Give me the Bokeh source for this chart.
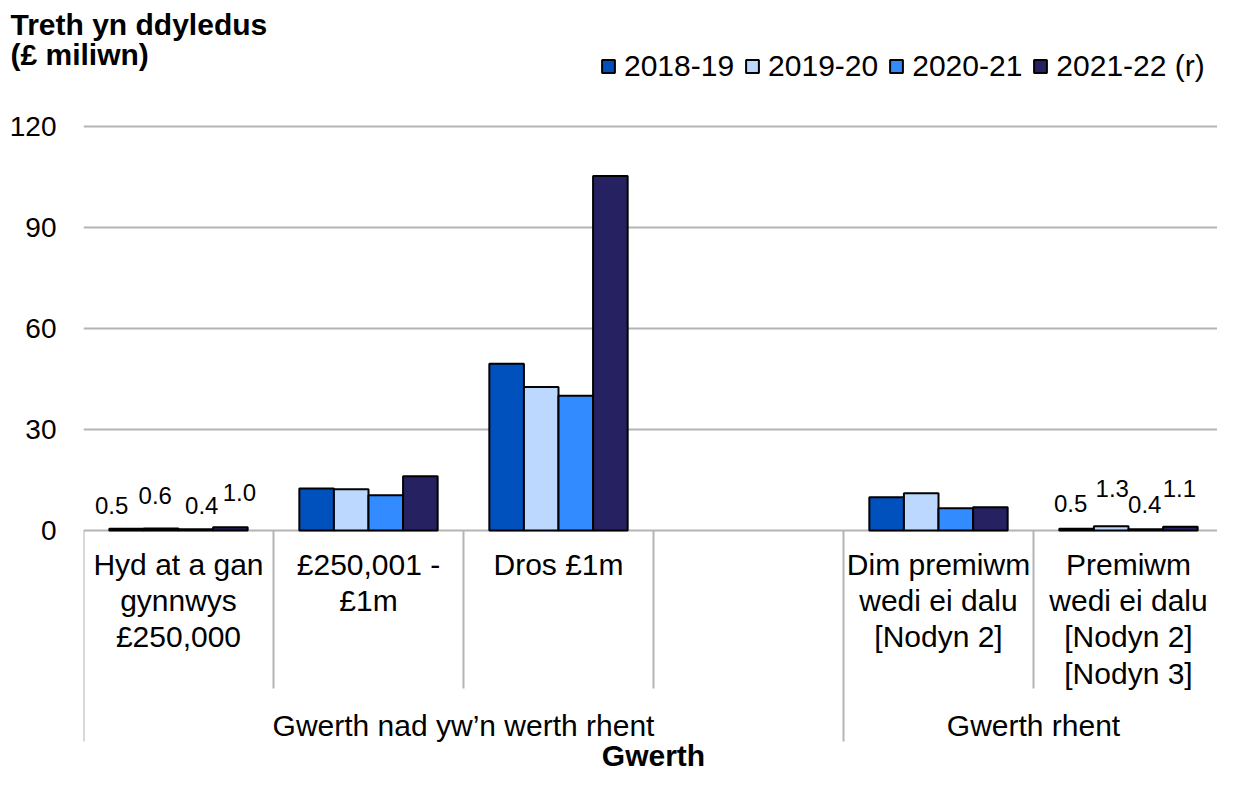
import math
from bokeh.plotting import figure
from bokeh.models import Range1d, FixedTicker, Legend, LegendItem, Title, ColumnDataSource
from bokeh.core.properties import value
from bokeh.transform import dodge
from bokeh.embed import file_html
from bokeh.resources import INLINE

nan = float("nan")

# ---------------- data ----------------
categories = [
    "Hyd at a gan\ngynnwys\n£250,000",
    "£250,001 -\n£1m",
    "Dros £1m",
    "",
    "Dim premiwm\nwedi ei dalu\n[Nodyn 2]",
    "Premiwm\nwedi ei dalu\n[Nodyn 2]\n[Nodyn 3]",
]
groups = ["Gwerth nad yw’n werth rhent", "Gwerth rhent"]
group_sizes = [4, 2]
series_names = ["2018-19", "2019-20", "2020-21", "2021-22 (r)"]
v_2018_19 = [0.5, 12.5, 49.6, nan, 9.9, 0.5]
v_2019_20 = [0.6, 12.3, 42.7, nan, 11.1, 1.3]
v_2020_21 = [0.4, 10.5, 40.1, nan, 6.6, 0.4]
v_2021_22 = [1.0, 16.1, 105.4, nan, 6.9, 1.1]
labelled_categories = [0, 5]
y_ticks = [0, 30, 60, 90, 120]
y_title = "Treth yn ddyledus\n(£ miliwn)"
x_title = "Gwerth"

# ---------------- style ----------------
series_values = [v_2018_19, v_2019_20, v_2020_21, v_2021_22]
colors = ["#0050BE", "#BDD8FE", "#338CFF", "#262262"]
FONT = "Liberation Sans"
W, H = 1217, 773
LEFT = 83             # frame left (canvas px)
TOP = 46              # frame top (canvas px)
AXIS_Y = 530          # canvas y of value 0
PX = 3.363            # pixels per data unit
CAT_PX = 190          # pixels per category
BAR_W = 0.182
GRID = "#B4B4B4"

# data-label offsets (screen px) for the labelled categories
lab_dx = {0: [-15, -6, 6, 9], 5: [-6, 1, -1, -1]}
lab_dy = {0: [-23, -33, -24, -35], 5: [-25, -38, -25, -38]}

def below(px):
    return -px / PX

n = len(categories)
p = figure(width=W, height=H, output_backend="svg", toolbar_location=None,
           x_range=Range1d(0, (W - LEFT) / CAT_PX),
           y_range=Range1d(-(H - AXIS_Y) / PX, (AXIS_Y - TOP) / PX),
           x_axis_location=None, title=None,
           min_border_left=LEFT, min_border_right=0, min_border_top=TOP, min_border_bottom=0)
p.outline_line_color = None
p.xgrid.visible = False
p.ygrid.ticker = FixedTicker(ticks=y_ticks)
p.ygrid.grid_line_color = GRID
p.ygrid.grid_line_width = 2

ya = p.yaxis[0]
ya.ticker = FixedTicker(ticks=y_ticks)
ya.axis_line_color = None
ya.major_tick_line_color = None
ya.minor_tick_line_color = None
ya.major_tick_out = 0
ya.major_tick_in = 0
ya.major_label_standoff = 27
ya.major_label_text_font = FONT
ya.major_label_text_font_size = "28px"
ya.major_label_text_color = "#000000"

# ---------------- bars ----------------
xc = [i + 0.5 for i in range(n)]
renderers = []
for k, (name, vals, col) in enumerate(zip(series_names, series_values, colors)):
    src = ColumnDataSource(dict(x=xc, top=vals))
    off = (k - 1.5) * BAR_W
    r = p.vbar(x=dodge("x", off, range=p.x_range), top="top", bottom=0, width=BAR_W, source=src,
               fill_color=col, line_color="#000000", line_width=2)
    renderers.append(r)

# data labels
lx, ly, lt, ldx, ldy = [], [], [], [], []
for ci in labelled_categories:
    for k, vals in enumerate(series_values):
        lx.append(ci + 0.5 + (k - 1.5) * BAR_W)
        ly.append(vals[ci])
        lt.append(f"{vals[ci]:.1f}")
        ldx.append(lab_dx[ci][k])
        ldy.append(lab_dy[ci][k])
p.text(x="x", y="y", text="t", x_offset="dx", y_offset="dy",
       source=ColumnDataSource(dict(x=lx, y=ly, t=lt, dx=ldx, dy=ldy)),
       text_font=value(FONT), text_font_size="24px", text_color="#000000",
       text_align="center", text_baseline="middle")

# ---------------- category axis (hierarchical) ----------------
p.text(x=xc, y=[below(17)] * n, text=categories, text_font=value(FONT), text_font_size="30px",
       text_color="#000000", text_align="center", text_baseline="top", text_line_height=1.105)

starts = [sum(group_sizes[:g]) for g in range(len(groups))]
outer = set(starts)
inner = [b for b in range(1, n) if b not in outer]
p.segment(x0=inner, x1=inner, y0=[0] * len(inner), y1=[below(158)] * len(inner),
          line_color=GRID, line_width=2)
p.segment(x0=sorted(outer), x1=sorted(outer), y0=[0] * len(outer), y1=[below(211)] * len(outer),
          line_color=GRID, line_width=2)
gx = [s + g / 2 for s, g in zip(starts, group_sizes)]
p.text(x=gx, y=[below(195)] * len(groups), text=groups, text_font=value(FONT), text_font_size="30px",
       text_color="#000000", text_align="center", text_baseline="middle")
p.text(x=[n / 2], y=[below(225)], text=[x_title], text_font=value(FONT), text_font_size="30px",
       text_font_style="bold", text_color="#000000", text_align="center", text_baseline="middle")

# ---------------- title (above) & legend (in frame) ----------------
title = Title(text=y_title, align="left", vertical_align="bottom", offset=10 - LEFT, standoff=-50,
              text_font=FONT, text_font_size="30px", text_font_style="bold",
              text_color="#000000", text_line_height=0.91)
p.add_layout(title, "above")

legend = Legend(items=[LegendItem(label=nm, renderers=[r]) for nm, r in zip(series_names, renderers)],
                orientation="horizontal", location=(517, 690),
                glyph_width=16, glyph_height=16, label_standoff=8, spacing=10,
                padding=0, margin=0, border_line_alpha=0, background_fill_alpha=0,
                label_text_font=FONT, label_text_font_size="30px", label_text_color="#000000")
p.add_layout(legend)

open("out.html", "w").write(file_html(p, INLINE))
